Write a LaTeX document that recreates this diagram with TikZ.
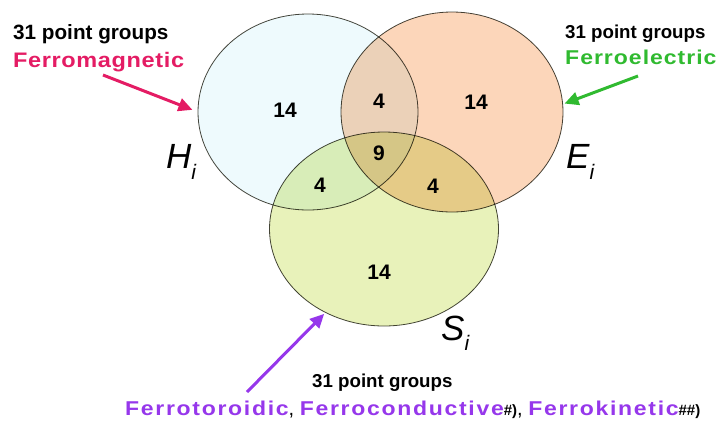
\documentclass[tikz,border=0pt]{standalone}
\usepackage{fontspec}
\setmainfont{Liberation Sans}
\usepackage{tikz}
\usetikzlibrary{shapes.geometric, positioning, arrows.meta}
\definecolor{FMpink}{RGB}{228,28,100}
\definecolor{FEgreen}{RGB}{48,186,48}
\definecolor{FTpurple}{RGB}{150,55,235}
\definecolor{Hfill}{RGB}{238,250,253}
\definecolor{Efill}{RGB}{252,214,186}
\definecolor{Sfill}{RGB}{232,242,186}
\definecolor{rim}{RGB}{70,70,60}

\begin{document}
\begin{tikzpicture}[x=1pt, y=-1pt,
          venn/.style={ellipse, draw=rim, line width=0.8pt, inner sep=0pt,
                       outer sep=0pt},
          count/.style={font=\fontsize{21}{21}\selectfont\bfseries},
          groups/.style={anchor=base west, inner sep=0pt,
                         font=\bfseries},
          family/.style={anchor=base west, inner sep=0pt},
          setlbl/.style={anchor=base west, inner sep=0pt,
                         font=\fontsize{35}{35}\selectfont\itshape},
          pointer/.style={line width=3pt, -{Triangle[length=14pt,width=13pt]}}
        ]
        \useasboundingbox (0,0) rectangle (717,424);

        % The three sets
        \begin{scope}[blend mode=multiply]
          \node[venn, fill=Hfill, minimum width=220pt, minimum height=196pt]
                (H) at (308,112) {};
          \node[venn, fill=Efill, minimum width=222pt, minimum height=200pt]
                (E) at (452,112) {};
          \node[venn, fill=Sfill, minimum width=229pt, minimum height=194pt]
                (S) at (384,229) {};
        \end{scope}

        % Counts in each region
        \node[count] (nH)   at (285,110) {14};
        \node[count] (nHE)  at (379,101) {4};
        \node[count] (nE)   at (476,102) {14};
        \node[count] (nHES) at (379,153) {9};
        \node[count] (nHS)  at (320,185) {4};
        \node[count] (nES)  at (433,186) {4};
        \node[count] (nS)   at (379,272) {14};

        % Set names
        \node[setlbl] (Hlbl) at (166,168)
              {H\raisebox{-11pt}{\fontsize{21}{21}\selectfont i}};
        \node[setlbl] (Elbl) at (566,168)
              {E\raisebox{-11pt}{\fontsize{21}{21}\selectfont i}};
        \node[setlbl] (Slbl) at (441,340)
              {S\raisebox{-10pt}{\fontsize{21}{21}\selectfont i}};

        % Ferromagnetic
        \node[groups, font=\fontsize{20.7}{20.7}\selectfont\bfseries]
              (magGroups) at (13,39) {31 point groups};
        \node[family, text=FMpink,
              font=\fontsize{21}{21}\selectfont\bfseries\addfontfeatures{FakeStretch=1.12,LetterSpace=3}]
              (magName) at (13,67) {Ferromagnetic};
        \coordinate (magTail) at (103,75);
        \draw[pointer, FMpink, shorten >=6pt] (magTail) -- (H.west);

        % Ferroelectric
        \node[groups, font=\fontsize{18.7}{18.7}\selectfont\bfseries]
              (elGroups) at (565,38) {31 point groups};
        \node[family, text=FEgreen,
              font=\fontsize{20}{20}\selectfont\bfseries\addfontfeatures{FakeStretch=1.15,LetterSpace=5}]
              (elName) at (565,64) {Ferroelectric};
        \coordinate (elTail) at (638,76);
        \draw[pointer, FEgreen, shorten >=2pt] (elTail) -- (E.4);

        % Ferrotoroidic etc.
        \node[groups, font=\fontsize{18.7}{18.7}\selectfont\bfseries]
              (torGroups) at (312,387) {31 point groups};
        \node[family, font=\fontsize{20}{20}\selectfont]
              (torName) at (125,415)
              {{\bfseries\addfontfeatures{FakeStretch=1.15,LetterSpace=8.5}\color{FTpurple}Ferrotoroidic},
               {\bfseries\addfontfeatures{FakeStretch=1.15,LetterSpace=8.5}\color{FTpurple}Ferroconductive}{\fontsize{15}{15}\selectfont\bfseries\#)},
               {\bfseries\addfontfeatures{FakeStretch=1.15,LetterSpace=8.5}\color{FTpurple}Ferrokinetic}{\fontsize{15}{15}\selectfont\bfseries\#\#)}};
        \coordinate (torTail) at (247,392);
        \draw[pointer, FTpurple, shorten >=2pt] (torTail) -- (S.235);
      \end{tikzpicture}
\end{document}
